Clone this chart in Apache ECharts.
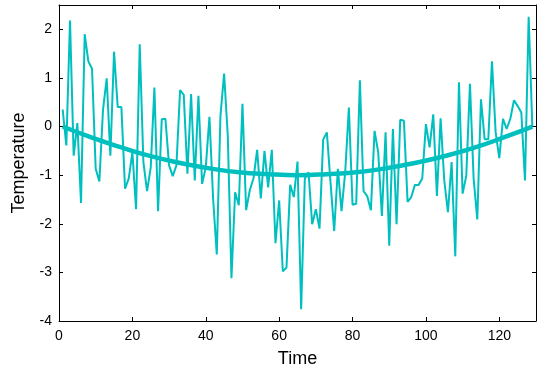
<!DOCTYPE html>
<html>
<head>
<meta charset="utf-8">
<script src="https://cdn.jsdelivr.net/npm/echarts@6/dist/echarts.min.js"></script>
<style>html,body{margin:0;padding:0;background:#fff}#c{width:548px;height:373px}</style>
</head>
<body>
<div id="c"></div>
<script>
// Noisy temperature series, x = 1..129
const timeValues = [];
for (let i = 1; i <= 129; i++) timeValues.push(i);
const temperature = [
  0.35, -0.39, 2.18, -0.60, 0.07, -1.57, 1.90, 1.34, 1.19, -0.87,
  -1.13, 0.35, 0.99, -0.60, 1.54, 0.40, 0.40, -1.28, -1.07, -0.53,
  -1.70, 1.69, -0.73, -1.33, -0.84, 0.80, -1.74, 0.15, 0.16, -0.80,
  -1.02, -0.80, 0.75, 0.65, -0.97, 0.67, -1.11, 0.63, -1.18, -0.84,
  0.20, -1.48, -2.63, 0.22, 1.09, -0.19, -3.12, -1.35, -1.62, 0.47,
  -1.72, -1.31, -1.07, -0.48, -1.48, -0.50, -1.25, -0.48, -2.40, -1.52,
  -2.98, -2.90, -1.20, -1.45, -0.72, -3.76, -1.07, -0.94, -2.01, -1.70,
  -2.10, -0.27, -0.12, -1.15, -2.15, -0.87, -1.74, -0.94, 0.39, -1.61,
  -1.59, 0.95, -1.33, -1.43, -1.72, -0.09, -0.53, -1.84, -0.12, -2.45,
  -0.05, -2.01, 0.14, 0.12, -1.55, -1.45, -1.20, -1.20, -1.07, 0.05,
  -0.43, 0.25, -1.43, 0.17, -1.11, -1.76, -0.73, -2.67, 0.91, -1.38,
  -1.01, 0.88, -1.07, -1.91, 0.56, -0.26, -0.26, 1.34, -0.12, -0.65,
  0.16, -0.05, 0.16, 0.54, 0.42, 0.29, -1.11, 2.26, 0.00
];
// Smooth trend
const trendTime = [1, 9, 17, 25, 33, 41, 49, 57, 65, 73, 81, 89, 97, 105, 113, 121, 129];
const trendValues = [0.00, -0.23, -0.43, -0.61, -0.75, -0.86, -0.94, -0.98, -1.00, -0.98, -0.94, -0.86, -0.75, -0.61, -0.44, -0.23, 0.00];
const xTicks = [0, 20, 40, 60, 80, 100, 120];
const yTicks = [-4, -3, -2, -1, 0, 1, 2];

const lineColor = '#00BFBF';
const font = 'Liberation Sans, Arial, sans-serif';

const axisCommon = {
  axisLine: { show: true, onZero: false, lineStyle: { color: '#000', width: 1 } },
  axisTick: { show: true, inside: true, length: 4, lineStyle: { color: '#000' } },
  splitLine: { show: false }
};

const chart = echarts.init(document.getElementById('c'), null, { renderer: 'canvas' });
chart.setOption({
  animation: false,
  backgroundColor: '#fff',
  grid: { left: 59, right: 12, top: 5, bottom: 50, containLabel: false },
  xAxis: [
    Object.assign({}, axisCommon, {
      type: 'value', min: 0, max: 130, interval: 20, position: 'bottom',
      name: 'Time', nameLocation: 'middle', nameGap: 29,
      nameTextStyle: { fontFamily: font, fontSize: 18, color: '#000' },
      axisLabel: { show: true, showMaxLabel: false, fontFamily: font, fontSize: 14, color: '#000', margin: 8,
        formatter: v => xTicks.includes(v) ? String(v) : '' }
    }),
    Object.assign({}, axisCommon, {
      type: 'value', min: 0, max: 130, interval: 20, position: 'top',
      axisLabel: { show: false }
    })
  ],
  yAxis: [
    Object.assign({}, axisCommon, {
      type: 'value', min: -4, max: 2.5, interval: 1, position: 'left',
      name: 'Temperature', nameLocation: 'middle', nameGap: 31, nameRotate: 90,
      nameTextStyle: { fontFamily: font, fontSize: 18, color: '#000' },
      axisLabel: { show: true, showMaxLabel: false, fontFamily: font, fontSize: 14, color: '#000', margin: 7,
        formatter: v => yTicks.includes(v) ? String(v) : '' }
    }),
    Object.assign({}, axisCommon, {
      type: 'value', min: -4, max: 2.5, interval: 1, position: 'right',
      axisLabel: { show: false }
    })
  ],
  series: [
    {
      type: 'line', xAxisIndex: 0, yAxisIndex: 0, symbol: 'none',
      data: timeValues.map((t, i) => [t, temperature[i]]),
      lineStyle: { color: lineColor, width: 2 }, z: 2
    },
    {
      type: 'line', xAxisIndex: 0, yAxisIndex: 0, symbol: 'none', smooth: true,
      data: trendTime.map((t, i) => [t, trendValues[i]]),
      lineStyle: { color: lineColor, width: 4.5 }, z: 3
    }
  ]
});
</script>
</body>
</html>
